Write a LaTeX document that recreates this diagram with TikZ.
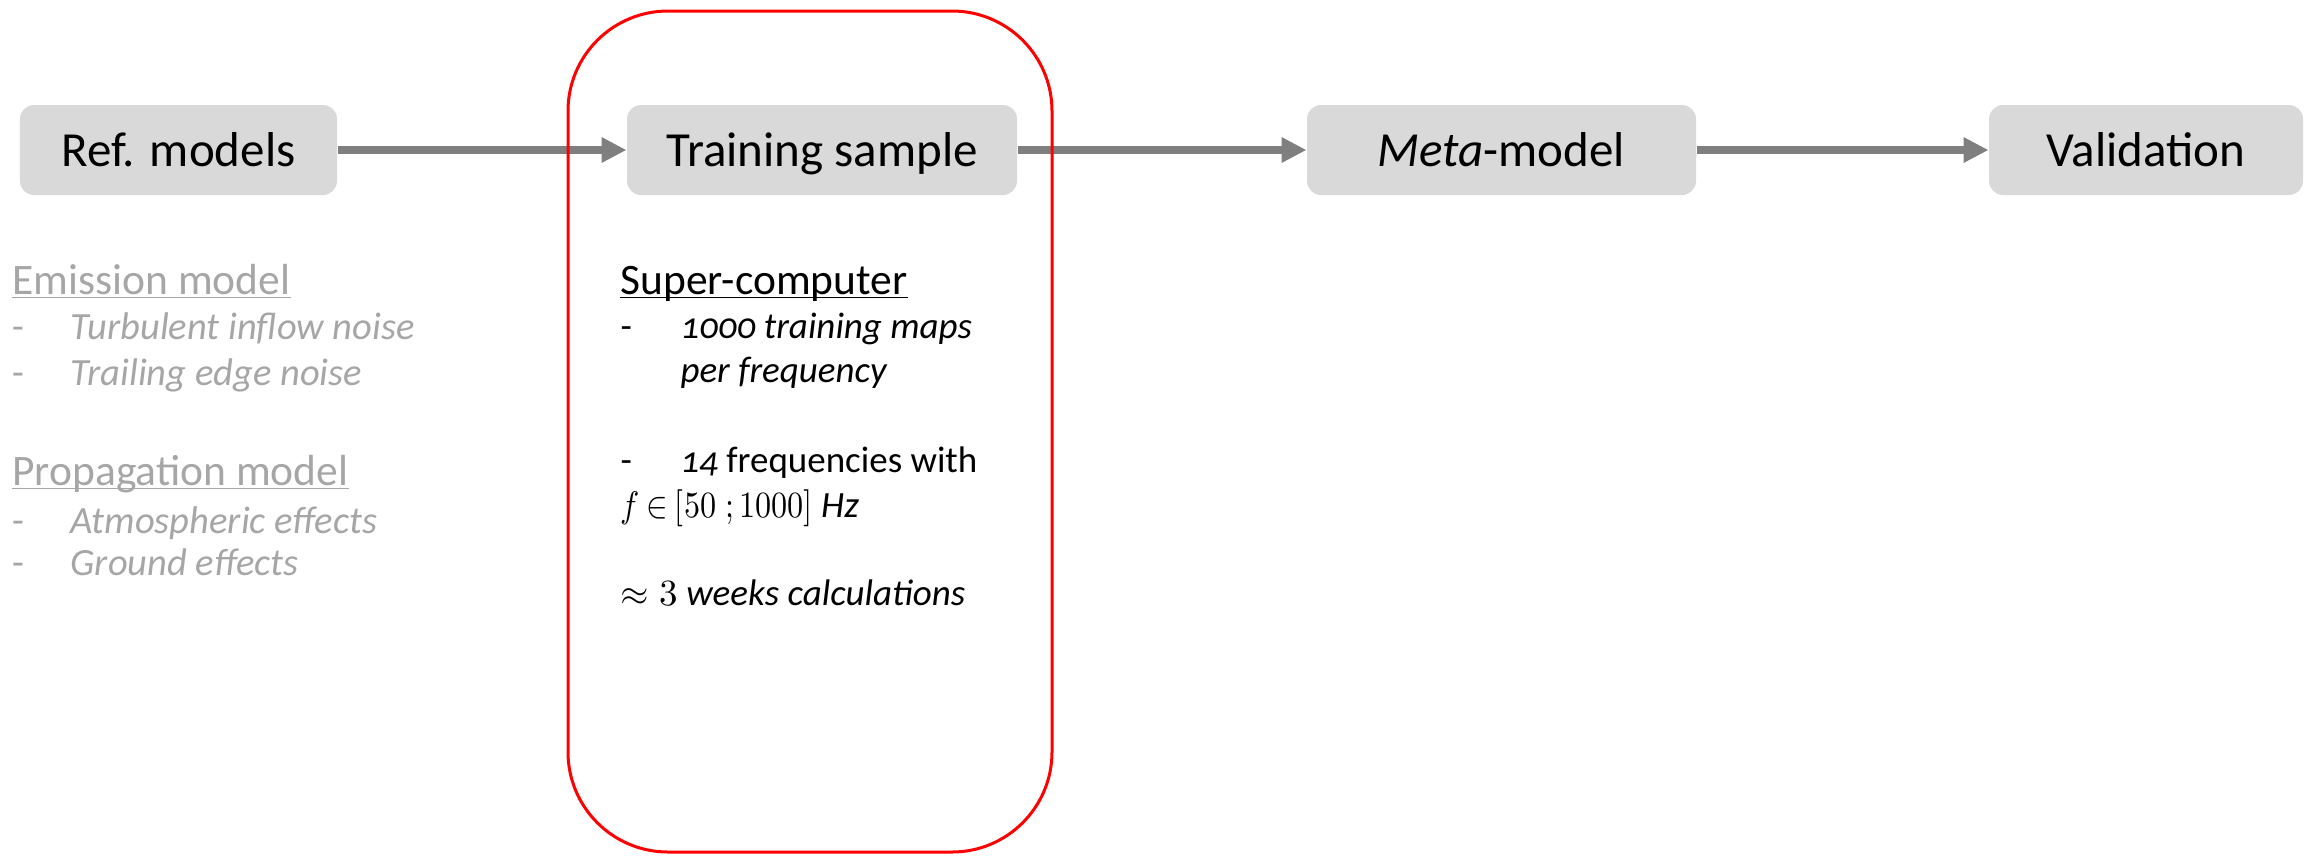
\documentclass[tikz,border=0pt]{standalone}
\usepackage{fontspec}
\usepackage{unicode-math}
\setmainfont{Carlito}
\usetikzlibrary{arrows.meta}
\definecolor{boxgray}{HTML}{D9D9D9}
\definecolor{arrgray}{HTML}{7F7F7F}
\definecolor{txtgray}{HTML}{A6A6A6}
\definecolor{redline}{HTML}{FF0000}
\newcommand\boxfont{\fontsize{19.6pt}{24pt}\selectfont}
\newcommand\headfont{\fontsize{17.4pt}{20pt}\selectfont}
\newcommand\itemfont{\fontsize{14.8pt}{18pt}\selectfont}
\newcommand\leftitemfont{\fontsize{15.4pt}{18pt}\selectfont}
\newcommand\onum[1]{{\addfontfeatures{Numbers=OldStyle}#1}}
\tikzset{
  stagebox/.style={fill=boxgray, rounded corners=5.6pt, inner sep=0pt,
    minimum height=36pt, text height=16pt, text depth=3.2pt, font=\boxfont, text=black},
  flowarrow/.style={draw=arrgray, line width=3.2pt,
    -{Triangle[length=10pt,width=9.6pt]}},
  txt/.style={anchor=base west, inner sep=0pt},
  greytxt/.style={txt, text=txtgray},
  ulgrey/.style={draw=txtgray, line width=0.6pt},
  ulblack/.style={draw=black, line width=0.6pt},
  focus/.style={draw=redline, line width=1.2pt, rounded corners=40pt}
}
\begin{document}
\begin{tikzpicture}[x=0.4pt,y=-0.4pt]
\useasboundingbox (0,0) rectangle (2305,855);
% stage boxes
\node[stagebox, minimum width=126.8pt] (ref) at (178.5,150) {Ref. models};
\node[stagebox, minimum width=156pt] (train) at (822,150) {Training sample};
\node[stagebox, minimum width=155.6pt] (meta) at (1501.5,150) {\textit{Meta}-model};
\node[stagebox, minimum width=125.6pt] (valid) at (2146,150) {Validation};
\draw[flowarrow] (ref) -- (train);
\draw[flowarrow] (train) -- (meta);
\draw[flowarrow] (meta) -- (valid);
% left column
\node[greytxt, font=\headfont] (emis) at (12,294) {Emission model};
\draw[ulgrey] ([yshift=-1.4pt]emis.base west) -- ([yshift=-1.4pt]emis.base east);
\node[greytxt, font=\leftitemfont] (d1) at (12,339) {-};
\node[greytxt, font=\leftitemfont\itshape] (e1) at (70,339) {Turbulent inflow noise};
\node[greytxt, font=\leftitemfont] (d2) at (12,385) {-};
\node[greytxt, font=\leftitemfont\itshape] (e2) at (70,385) {Trailing edge noise};
\node[greytxt, font=\headfont] (prop) at (12,485) {Propagation model};
\draw[ulgrey] ([yshift=-1.4pt]prop.base west) -- ([yshift=-1.4pt]prop.base east);
\node[greytxt, font=\leftitemfont] (d3) at (12,533) {-};
\node[greytxt, font=\leftitemfont\itshape] (p1) at (70,533) {Atmospheric effects};
\node[greytxt, font=\leftitemfont] (d4) at (12,575) {-};
\node[greytxt, font=\leftitemfont\itshape] (p2) at (70,575) {Ground effects};
% middle column
\node[txt, font=\headfont] (sc) at (620,294) {Super-computer};
\draw[ulblack] ([yshift=-1.4pt]sc.base west) -- ([yshift=-1.4pt]sc.base east);
\node[txt, font=\itemfont] (m1d) at (620,338) {-};
\node[txt, font=\itemfont\itshape] (m1) at (680,338) {\onum{1000} training maps};
\node[txt, font=\itemfont\itshape] (m1b) at (680,382) {per frequency};
\node[txt, font=\itemfont] (m2d) at (620,472) {-};
\node[txt, font=\itemfont] (m2) at (680,472) {\textit{\onum{14}} frequencies with};
\node[txt, font=\itemfont] (m3) at (620,517) {\scalebox{0.87}[1]{$f\mskip4mu{\in}\mskip4mu[50\mskip5mu{;}\mskip3mu1000]$} \textit{Hz}};
\node[txt, font=\itemfont] (m4) at (620,605) {$\approx 3\ \mathit{weeks}$ \textit{calculations}};
% focus frame
\draw[focus] (568,11) rectangle (1052,852);
\end{tikzpicture}
\end{document}
